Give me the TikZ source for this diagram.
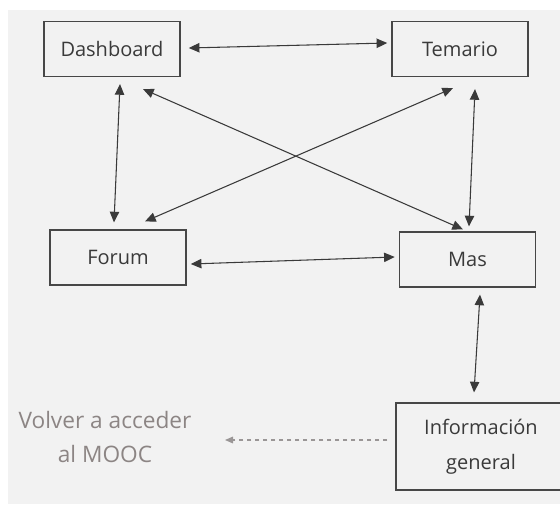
\documentclass[tikz,border=0pt]{standalone}
\usepackage{fontspec}
\setmainfont{Open Sans}
\usetikzlibrary{arrows.meta}
\definecolor{paper}{HTML}{F2F2F2}
\definecolor{ink}{HTML}{3A3A3A}
\definecolor{frame}{HTML}{474747}
\definecolor{faded}{HTML}{8C8584}
\definecolor{dashgray}{HTML}{9A9696}
\begin{document}
\begin{tikzpicture}[x=0.75pt,y=-0.75pt,
    screen/.style={draw=frame,line width=1.1pt,minimum width=102pt,minimum height=41pt,
        text=ink,font=\fontsize{15}{26}\selectfont,align=center},
    link/.style={<->,>={Triangle[length=8pt,width=7pt]},draw=ink,line width=0.8pt},
    back/.style={->,>={Triangle[length=6pt,width=5pt]},draw=dashgray,dashed,line width=0.8pt}]
    \clip (0,0) rectangle (560,504);
    \fill[white] (0,0) rectangle (560,504);
    \fill[paper] (8,10) rectangle (560,504);

    % screens
    \node[screen] (dash) at (112,49) {Dashboard};
    \node[screen] (tem) at (460,49) {Temario};
    \node[screen] (forum) at (118,257.5) {Forum};
    \node[screen] (mas) at (467.5,259.5) {Mas};
    \node[screen,minimum width=127.5pt,minimum height=65pt] (info) at (481,446.5) {Información\\general};

    \node[text=faded,font=\fontsize{17}{26}\selectfont,align=center] (volver) at (105,437) {Volver a acceder\\al MOOC};
    \coordinate (ret) at (225,440);

    % navigation
    \draw[link] ([shift={(8,-1)}]dash.east) -- ([shift={(-4,-6)}]tem.west);
    \draw[link] ([shift={(8,7)}]dash.south) -- ([shift={(-4,-7)}]forum.north);
    \draw[link] ([shift={(31,12)}]dash.south) -- ([shift={(-4.5,-2)}]mas.north);
    \draw[link] ([shift={(-7,11)}]tem.south) -- ([shift={(27,-8)}]forum.north);
    \draw[link] ([shift={(15,12)}]tem.south) -- ([shift={(1.5,-5)}]mas.north);
    \draw[link] ([shift={(4,6.5)}]forum.east) -- ([shift={(-4,-2.5)}]mas.west);
    \draw[link] ([shift={(12.5,7)}]mas.south) -- ([shift={(-7,-10)}]info.north);

    \draw[back] ([shift={(-8,-6.5)}]info.west) -- (ret);
\end{tikzpicture}
\end{document}
